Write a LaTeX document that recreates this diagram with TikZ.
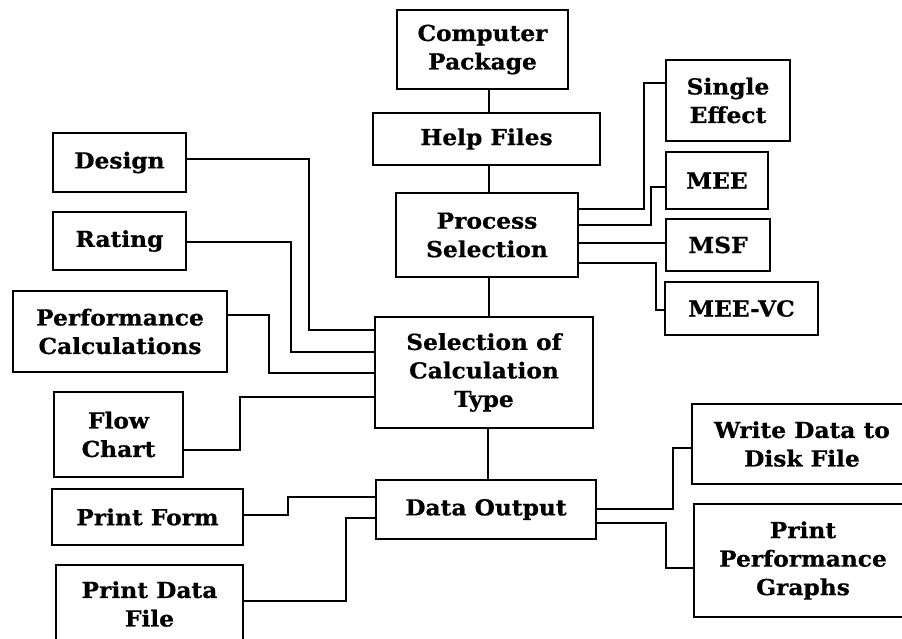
\documentclass[tikz,border=0pt]{standalone}
\usepackage{fontspec}
\setmainfont{DejaVu Serif}[FakeStretch=1.06,BoldFeatures={FakeBold=0.6}]
\begin{document}
\begin{tikzpicture}[x=1pt,y=-1pt,
  box/.style={draw,line width=2pt,inner sep=0pt,align=center,
    font=\fontsize{22}{28.5}\selectfont\bfseries},
  conn/.style={line width=2pt}]
\useasboundingbox (0,0) rectangle (902,638);
\clip (0,0) rectangle (902,638);
\coordinate (vx) at (489,0);
% nodes
\node[box,minimum width=171pt,minimum height=79pt] (cp) at (482.5,49.5) {Computer\\Package};
\node[box,minimum width=227pt,minimum height=52pt] (hf) at (486.5,139) {Help Files};
\node[box,minimum width=182pt,minimum height=84pt] (ps) at (487,235) {Process\\Selection};
\node[box,minimum width=124pt,minimum height=81pt] (se) at (728,100.5) {Single\\Effect};
\node[box,minimum width=102pt,minimum height=57pt] (mee) at (717,180.5) {MEE};
\node[box,minimum width=104pt,minimum height=52pt] (msf) at (718,245) {MSF};
\node[box,minimum width=153pt,minimum height=53pt] (meevc) at (741.5,308.5) {MEE-VC};
\node[box,minimum width=133pt,minimum height=59pt] (design) at (119.5,162.5) {Design};
\node[box,minimum width=133pt,minimum height=58pt] (rating) at (119.5,241) {Rating};
\node[box,minimum width=214pt,minimum height=81pt] (perf) at (120,331.5) {Performance\\Calculations};
\node[box,minimum width=129pt,minimum height=85pt] (flow) at (118.5,434.5) {Flow\\Chart};
\node[box,minimum width=218pt,minimum height=111pt] (soct) at (484,372.5) {Selection of\\Calculation\\Type};
\node[box,minimum width=220pt,minimum height=59pt] (dout) at (486,509.5) {Data Output};
\node[box,minimum width=191pt,minimum height=56pt] (pform) at (147.5,517) {Print Form};
\node[box,minimum width=187pt,minimum height=78pt] (pdata) at (149.5,604) {Print Data\\File};
\node[box,minimum width=220pt,minimum height=80pt] (wdata) at (802,444) {Write Data to\\Disk File};
\node[box,minimum width=218pt,minimum height=113pt] (ppg) at (803,560.5) {Print\\Performance\\Graphs};
% vertical trunk
\draw[conn] (cp.south -| vx) -- (hf.north -| vx);
\draw[conn] (hf.south -| vx) -- (ps.north -| vx);
\draw[conn] (ps.south -| vx) -- (soct.north -| vx);
\draw[conn] ([xshift=-1pt]soct.south -| vx) -- ([xshift=-1pt]dout.north -| vx);
% process selection branches
\draw[conn] ([yshift=26pt]ps.east) -- ++(65,0) |- ([yshift=17.5pt]se.west);
\draw[conn] ([yshift=10pt]ps.east) -- ++(72,0) |- ([yshift=-6.5pt]mee.west);
\draw[conn] ([yshift=-8pt]ps.east) -- ([yshift=2pt]msf.west);
\draw[conn] ([yshift=-28pt]ps.east) -- ++(77,0) |- ([yshift=-1.5pt]meevc.west);
% calculation type inputs
\draw[conn] ([yshift=3.5pt]design.east) -- ++(122,0) |- ([yshift=42.5pt]soct.west);
\draw[conn] ([yshift=-1pt]rating.east) -- ++(104,0) |- ([yshift=20.5pt]soct.west);
\draw[conn] ([yshift=16.5pt]perf.east) -- ++(41,0) |- (soct.west);
\draw[conn] ([yshift=-15.5pt]flow.east) -- ++(56,0) |- ([yshift=-24.5pt]soct.west);
% data output
\draw[conn] ([yshift=2pt]pform.east) -- ++(44,0) |- ([yshift=12.5pt]dout.west);
\draw[conn] ([yshift=3pt]pdata.east) -- ++(102,0) |- ([yshift=-8.5pt]dout.west);
\draw[conn] ([yshift=0.5pt]dout.east) -- ++(76,0) |- ([yshift=-4pt]wdata.west);
\draw[conn] ([yshift=-13.5pt]dout.east) -- ++(69,0) |- ([yshift=-7.5pt]ppg.west);
\end{tikzpicture}
\end{document}
